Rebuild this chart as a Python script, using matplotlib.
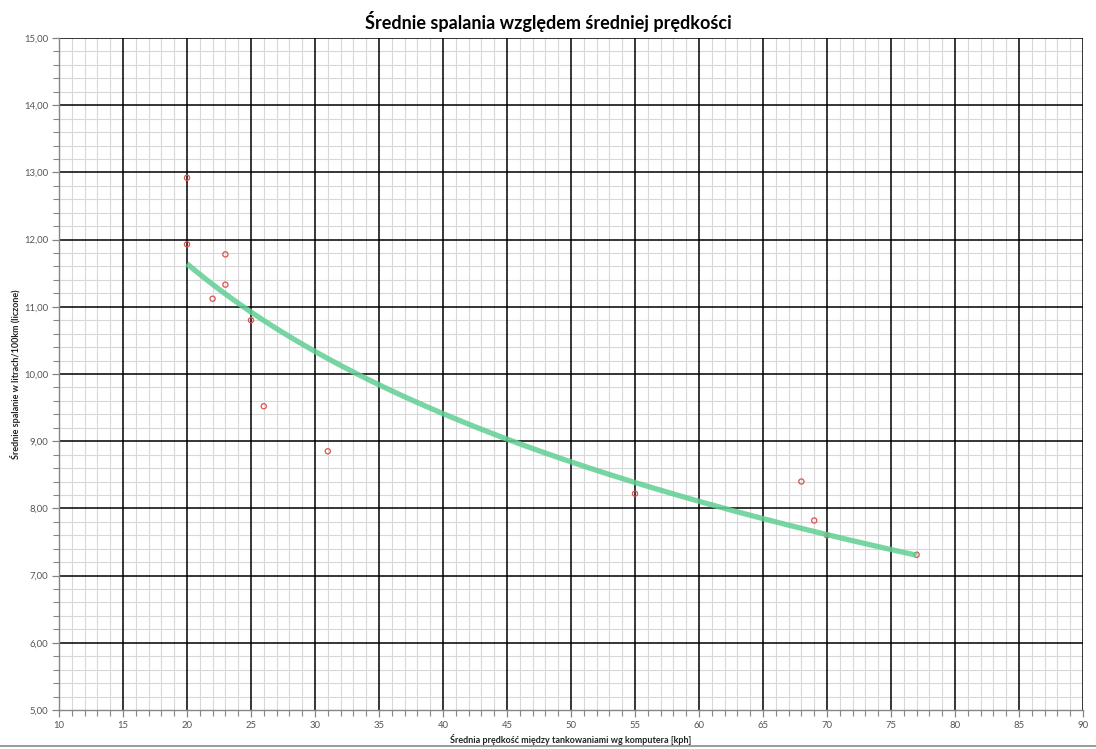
import matplotlib.pyplot as plt
from matplotlib.ticker import MultipleLocator, FuncFormatter
import numpy as np

# Measured points: average speed between refuelings vs. average consumption
speed = [20, 20, 23, 23, 22, 25, 26, 31, 55, 68, 69, 70, 77]
consumption = [12.92, 11.93, 11.78, 11.33, 11.12, 10.80, 9.52, 8.85, 8.22, 8.40, 7.82, 7.60, 7.31]

title = 'Średnie spalania względem średniej prędkości'
xlabel = 'Średnia prędkość między tankowaniami wg komputera [kph]'
ylabel = 'Średnie spalanie w litrach/100km (liczone)'

plt.rcParams['font.family'] = ['Lato', 'DejaVu Sans']

fig = plt.figure(figsize=(10.96, 7.49), dpi=100)
ax = fig.add_axes([59 / 1096, 1 - 710 / 749, (1083 - 59) / 1096, (710 - 38) / 749])

# logarithmic trend line fitted to the points (as in the spreadsheet)
xs = np.array(speed, dtype=float)
ys = np.array(consumption, dtype=float)
b, a = np.polyfit(np.log(xs), ys, 1)
xt = np.linspace(xs.min(), xs.max(), 200)
ax.plot(xt, a + b * np.log(xt), color='#5fcf92', lw=3.8, alpha=0.85, zorder=4,
        solid_capstyle='butt')

ax.scatter(speed, consumption, s=14, facecolors='none', edgecolors='#d9534f',
           linewidths=0.9, zorder=3)

ax.set_xlim(10, 90)
ax.set_ylim(5, 15)
ax.xaxis.set_major_locator(MultipleLocator(5))
ax.xaxis.set_minor_locator(MultipleLocator(1))
ax.yaxis.set_major_locator(MultipleLocator(1))
ax.yaxis.set_minor_locator(MultipleLocator(0.2))
ax.yaxis.set_major_formatter(FuncFormatter(lambda v, p: f'{v:.2f}'.replace('.', ',')))

# light minor grid from the axis, black major lines drawn on top of it
ax.grid(which='minor', color='#d8d8d8', lw=0.8)
ax.set_axisbelow(True)
for v in ax.get_xticks():
    if 10 < v <= 90:
        ax.axvline(v, color='black', lw=1.1, zorder=1)
for v in ax.get_yticks():
    if 5 < v <= 15:
        ax.axhline(v, color='black', lw=1.1, zorder=1)

for side in ['top', 'right']:
    ax.spines[side].set_visible(False)
for side in ['left', 'bottom']:
    ax.spines[side].set_color('#868686')
    ax.spines[side].set_linewidth(1.0)
    ax.spines[side].set_zorder(2)

ax.tick_params(which='major', length=5, width=0.9, color='#868686',
               labelsize=6.8, labelcolor='#555555', pad=3)
ax.tick_params(which='minor', length=4, width=0.8, color='#868686')

ax.set_xlabel(xlabel, fontsize=6.5, fontweight='bold', color='#222222', labelpad=3)
ax.set_ylabel(ylabel, fontsize=6.5, fontweight='bold', color='#222222')
ax.yaxis.set_label_coords(-0.037, 0.5)
fig.suptitle(title, fontsize=13, fontweight='bold', y=0.985)

# chart-area border at the bottom
fig.add_artist(plt.Line2D([0, 1], [1 - 746 / 749, 1 - 746 / 749], color='#8a8a8a', lw=1.2,
                          transform=fig.transFigure))

fig.savefig('out.png', dpi=100)
